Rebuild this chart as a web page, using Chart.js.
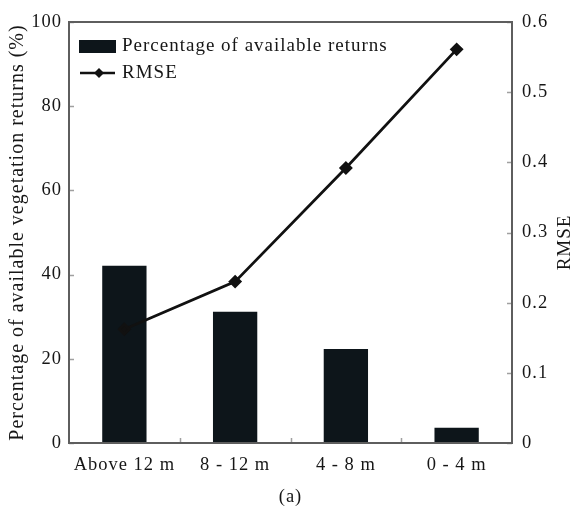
<!DOCTYPE html>
<html>
<head>
<meta charset="utf-8">
<script src="https://cdn.jsdelivr.net/npm/chart.js@4/dist/chart.umd.min.js"></script>
<style>
  html, body { margin: 0; padding: 0; background: #fff; }
  #wrap { width: 575px; height: 509px; }
</style>
</head>
<body>
<div id="wrap"><canvas id="c"></canvas></div>
<script>
// Height classes of vegetation returns
const categories = ['Above 12 m', '8 - 12 m', '4 - 8 m', '0 - 4 m'];
// Share of available vegetation returns per class (%)
const returnsPct = [42.1, 31.2, 22.3, 3.6];
// RMSE per class
const rmseValues = [0.162, 0.230, 0.392, 0.561];
// Axis tick settings
const leftTickStep = 20;
const rightTickStep = 0.1;

const FONT = 'Liberation Serif';
const SPACING = '1px';
const TEXT = '#161616';
const FRAME = '#5e5e5e';
const BAR = '#0d151a';
const LINE = '#111111';

// Slightly tracked serif text throughout
const spacingPlugin = {
  id: 'spacing',
  beforeLayout(chart) { chart.ctx.letterSpacing = SPACING; },
  beforeDraw(chart) { chart.ctx.letterSpacing = SPACING; }
};

// Boxed plot frame, inward tick marks, in-plot legend, right axis title
const framePlugin = {
  id: 'frame',
  afterDraw(chart) {
    const ctx = chart.ctx;
    const a = chart.chartArea;
    const y = chart.scales.y, y1 = chart.scales.y1, x = chart.scales.x;
    ctx.save();
    ctx.letterSpacing = SPACING;

    // inward tick marks
    ctx.strokeStyle = '#a0a0a0';
    ctx.lineWidth = 1.5;
    ctx.beginPath();
    y.ticks.forEach(t => {
      const py = Math.round(y.getPixelForValue(t.value)) + 0.5;
      ctx.moveTo(a.left, py); ctx.lineTo(a.left + 5, py);
    });
    y1.ticks.forEach(t => {
      const py = Math.round(y1.getPixelForValue(t.value)) + 0.5;
      ctx.moveTo(a.right, py); ctx.lineTo(a.right - 5, py);
    });
    for (let i = 1; i < categories.length; i++) {
      const px = Math.round((x.getPixelForValue(i - 1) + x.getPixelForValue(i)) / 2) + 0.5;
      ctx.moveTo(px, a.bottom); ctx.lineTo(px, a.bottom - 5);
    }
    ctx.stroke();

    // frame
    ctx.strokeStyle = FRAME;
    ctx.lineWidth = 2;
    ctx.strokeRect(a.left, a.top, a.right - a.left, a.bottom - a.top);

    // legend
    const ds = chart.data.datasets;
    ctx.font = '19px "' + FONT + '"';
    ctx.textBaseline = 'middle';
    ctx.textAlign = 'left';
    ctx.fillStyle = BAR;
    ctx.fillRect(a.left + 10, a.top + 18, 37, 13);
    ctx.fillStyle = TEXT;
    ctx.fillText(ds[0].label, a.left + 53, a.top + 24);

    const ly = a.top + 51;
    ctx.strokeStyle = LINE;
    ctx.lineWidth = 2.5;
    ctx.beginPath();
    ctx.moveTo(a.left + 11, ly); ctx.lineTo(a.left + 46, ly);
    ctx.stroke();
    ctx.fillStyle = LINE;
    ctx.beginPath();
    const mx = a.left + 30, r = 5;
    ctx.moveTo(mx, ly - r); ctx.lineTo(mx + r, ly); ctx.lineTo(mx, ly + r); ctx.lineTo(mx - r, ly);
    ctx.closePath(); ctx.fill();
    ctx.fillStyle = TEXT;
    ctx.fillText(ds[1].label, a.left + 53, ly);

    // right axis title, reading bottom to top
    ctx.font = '19px "' + FONT + '"';
    ctx.textAlign = 'center';
    ctx.translate(565, (a.top + a.bottom) / 2 + 10);
    ctx.rotate(-Math.PI / 2);
    ctx.fillText('RMSE', 0, 0);
    ctx.restore();
  }
};

const tickFont = { family: FONT, size: 18.5 };

new Chart(document.getElementById('c'), {
  data: {
    labels: categories,
    datasets: [
      {
        type: 'bar',
        label: 'Percentage of available returns',
        data: returnsPct,
        yAxisID: 'y',
        backgroundColor: BAR,
        barPercentage: 0.4,
        categoryPercentage: 1.0,
        order: 1
      },
      {
        type: 'line',
        label: 'RMSE',
        data: rmseValues,
        yAxisID: 'y1',
        borderColor: LINE,
        borderWidth: 2.8,
        pointStyle: 'rectRot',
        pointRadius: 5,
        pointBackgroundColor: LINE,
        pointBorderColor: LINE,
        tension: 0,
        order: 0
      }
    ]
  },
  options: {
    responsive: true,
    maintainAspectRatio: false,
    animation: false,
    layout: { padding: { top: 22, left: 0, right: 0, bottom: 0 } },
    plugins: { legend: { display: false }, tooltip: { enabled: false } },
    scales: {
      x: {
        grid: { display: false, drawTicks: false },
        border: { display: false },
        ticks: { font: tickFont, color: TEXT, padding: 11, maxRotation: 0, autoSkip: false },
        title: { display: true, text: '(a)', font: tickFont, color: TEXT, padding: { top: 6, bottom: 1 } },
        afterFit(s) { s.height = 66; }
      },
      y: {
        position: 'left',
        min: 0, max: 100,
        grid: { display: false, drawTicks: false },
        border: { display: false },
        ticks: { stepSize: leftTickStep, font: tickFont, color: TEXT, padding: 7 },
        title: {
          display: true,
          text: 'Percentage of available vegetation returns (%)',
          font: { family: FONT, size: 20 },
          color: TEXT,
          padding: { top: 6, bottom: 0 }
        },
        afterFit(s) { s.width = 69; }
      },
      y1: {
        position: 'right',
        min: 0, max: 0.6,
        grid: { display: false, drawTicks: false },
        border: { display: false },
        ticks: {
          stepSize: rightTickStep, font: tickFont, color: TEXT, padding: 10,
          callback: v => (Math.abs(v) < 1e-9 ? '0' : Number(v).toFixed(1))
        },
        afterFit(s) { s.width = 63; }
      }
    }
  },
  plugins: [spacingPlugin, framePlugin]
});
</script>
</body>
</html>
